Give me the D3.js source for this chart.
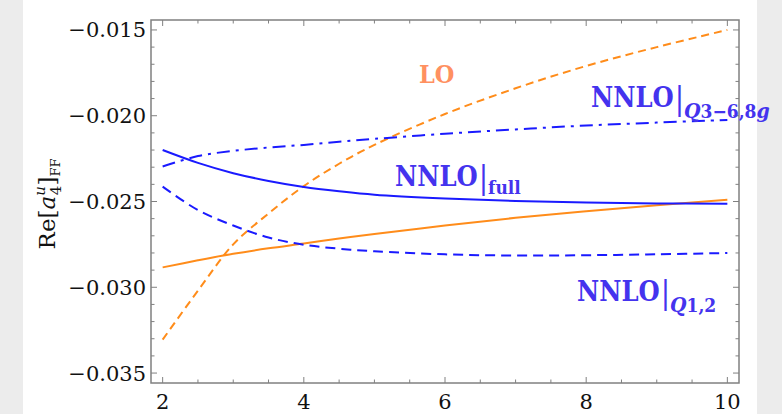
<!DOCTYPE html>
<html>
<head>
<meta charset="utf-8">
<script src="https://cdn.jsdelivr.net/npm/d3@7"></script>
<style>
    body { margin: 0; background: #fff; }
    svg { display: block; }
    .tick-label { font-family: "DejaVu Serif", serif; font-size: 21px; fill: #111; }
    .curve-label { font-family: "DejaVu Serif Condensed", "DejaVu Serif", serif; font-weight: bold; }
</style>
</head>
<body>
<svg id="chart" width="782" height="414"></svg>
<script>
// values
var xs = [2, 2.5, 3, 3.5, 4, 4.5, 5, 6, 7, 8, 9, 10];
var lo = [-0.03305, -0.0302, -0.0275, -0.0257, -0.0241, -0.0228, -0.0217, -0.0199, -0.0184, -0.0171, -0.0160, -0.0150];
var nlo = [-0.02884, -0.02843, -0.02805, -0.02773, -0.02745, -0.02716, -0.02690, -0.02640, -0.02595, -0.02557, -0.02522, -0.0249];
var nnloFull = [-0.0220, -0.02275, -0.02335, -0.0238, -0.02415, -0.0244, -0.0246, -0.02482, -0.02497, -0.02506, -0.02511, -0.02513];
var nnloQ12 = [-0.02413, -0.0255, -0.0264, -0.0271, -0.02752, -0.02775, -0.0279, -0.02808, -0.02815, -0.02813, -0.02808, -0.0280];
var nnloQ368g = [-0.02296, -0.02235, -0.02205, -0.02185, -0.0217, -0.02152, -0.02135, -0.02105, -0.0208, -0.02057, -0.0204, -0.02025];

var xTicks = [2, 4, 6, 8, 10];
var yTicks = [-0.035, -0.030, -0.025, -0.020, -0.015];

var svg = d3.select("#chart"),
    margin = {top: 20, right: 43, bottom: 31, left: 151},
    width = 782 - margin.left - margin.right,
    height = 414 - margin.top - margin.bottom;

// grey slide edges
svg.append("rect").attr("x", 0).attr("y", 0).attr("width", 23).attr("height", 414).attr("fill", "#ececec");
svg.append("rect").attr("x", 757).attr("y", 0).attr("width", 25).attr("height", 414).attr("fill", "#ececec");

var g = svg.append("g").attr("transform", "translate(" + margin.left + "," + margin.top + ")");

var x = d3.scaleLinear().domain([1.835, 10.165]).range([0, width]);
var y = d3.scaleLinear().domain([-0.03558, -0.01442]).range([height, 0]);

var frameColor = "#808080";

// frame ticks, all four sides, pointing inward
var xMinor = d3.range(2, 10.01, 0.5);
var yMinor = d3.range(-0.035, -0.0149, 0.001);

function addTicks(vals, isMajor, horizontal) {
    var len = isMajor ? 6 : 3.5;
    vals.forEach(function (v) {
        if (horizontal) {
            var px = x(v);
            g.append("line").attr("x1", px).attr("x2", px).attr("y1", height).attr("y2", height - len)
                .attr("stroke", frameColor).attr("stroke-width", 1);
            g.append("line").attr("x1", px).attr("x2", px).attr("y1", 0).attr("y2", len)
                .attr("stroke", frameColor).attr("stroke-width", 1);
        } else {
            var py = y(v);
            g.append("line").attr("x1", 0).attr("x2", len).attr("y1", py).attr("y2", py)
                .attr("stroke", frameColor).attr("stroke-width", 1);
            g.append("line").attr("x1", width).attr("x2", width - len).attr("y1", py).attr("y2", py)
                .attr("stroke", frameColor).attr("stroke-width", 1);
        }
    });
}
addTicks(xMinor.filter(function (v) { return xTicks.indexOf(v) < 0; }), false, true);
addTicks(xTicks, true, true);
addTicks(yMinor.filter(function (v) {
    return !yTicks.some(function (t) { return Math.abs(t - v) < 1e-6; });
}), false, false);
addTicks(yTicks, true, false);

g.append("rect").attr("x", 0).attr("y", 0).attr("width", width).attr("height", height)
    .attr("fill", "none").attr("stroke", frameColor).attr("stroke-width", 1.5);

// tick labels
g.selectAll(".xl").data(xTicks).enter().append("text")
    .attr("class", "tick-label")
    .attr("x", function (d) { return x(d); })
    .attr("y", height + 26)
    .attr("text-anchor", "middle")
    .text(function (d) { return d; });

g.selectAll(".yl").data(yTicks).enter().append("text")
    .attr("class", "tick-label")
    .attr("x", -5)
    .attr("y", function (d) { return y(d) + 7.5; })
    .attr("text-anchor", "end")
    .text(function (d) { return "\u2212" + Math.abs(d).toFixed(3); });

// y axis title
var yt = svg.append("text")
    .attr("transform", "translate(55,204) rotate(-90)")
    .attr("text-anchor", "middle")
    .attr("font-family", "DejaVu Serif, serif")
    .attr("font-size", 23)
    .attr("fill", "#111");
yt.append("tspan").text("Re[");
yt.append("tspan").attr("font-style", "italic").text("a");
yt.append("tspan").attr("font-size", 15).attr("dy", -10).attr("font-style", "italic").text("u");
yt.append("tspan").attr("font-size", 15).attr("dx", -9).attr("dy", 16).text("4");
yt.append("tspan").attr("dy", -6).text("]");
yt.append("tspan").attr("font-size", 13).attr("dy", 5).text("FF");

// curves
var orange = "#ff8c1a", blue = "#1a1aff";
var series = [
    {vals: lo, color: orange, dash: "8,5"},
    {vals: nlo, color: orange, dash: null},
    {vals: nnloFull, color: blue, dash: null},
    {vals: nnloQ12, color: blue, dash: "10,6"},
    {vals: nnloQ368g, color: blue, dash: "13,6,3,6"}
];

var line = d3.line()
    .x(function (d) { return x(d[0]); })
    .y(function (d) { return y(d[1]); })
    .curve(d3.curveCatmullRom);

series.forEach(function (s) {
    g.append("path")
        .datum(xs.map(function (xv, i) { return [xv, s.vals[i]]; }))
        .attr("d", line)
        .attr("fill", "none")
        .attr("stroke", s.color)
        .attr("stroke-width", 2)
        .attr("stroke-dasharray", s.dash);
});

// curve labels
var labelBlue = "#4433ee";

function nnloLabel(px, py, sub) {
    var t = svg.append("text").attr("class", "curve-label")
        .attr("x", px).attr("y", py).attr("fill", labelBlue).attr("font-size", 27);
    t.append("tspan").text("NNLO");
    t.append("tspan").attr("font-weight", "normal").attr("font-size", 31).attr("dx", 1).attr("dy", 2).text("|");
    sub.forEach(function (part) {
        t.append("tspan").attr("font-size", part.italic ? 21 : 19)
            .attr("font-style", part.italic ? "italic" : "normal")
            .attr("dy", part.dy || 0)
            .text(part.text);
    });
    return t;
}

svg.append("text").attr("class", "curve-label")
    .attr("x", 419).attr("y", 83)
    .attr("fill", "#ff9060").attr("font-size", 25)
    .text("LO");

nnloLabel(395, 186, [{text: "full", dy: 6}]);
nnloLabel(591, 107, [{text: "Q", italic: true, dy: 9}, {text: "3\u22126,8", italic: false}, {text: "g", italic: true}]);
nnloLabel(577, 301, [{text: "Q", italic: true, dy: 9}, {text: "1,2", italic: false}]);
</script>
</body>
</html>
